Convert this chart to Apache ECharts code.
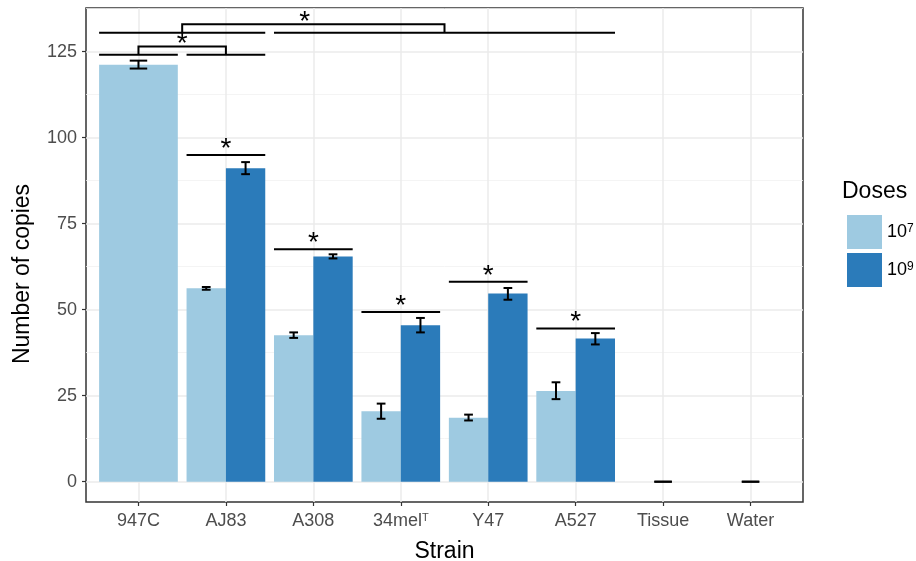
<!DOCTYPE html>
<html>
<head>
<meta charset="utf-8">
<script src="https://cdn.jsdelivr.net/npm/echarts@6/dist/echarts.min.js"></script>
<style>
  html, body { margin: 0; padding: 0; background: #fff; }
  #chart { width: 916px; height: 561px; }
</style>
</head>
<body>
<div id="chart"></div>
<script>
// data
var strains = ['947C', 'AJ83', 'A308', '34mel{s|T}', 'Y47', 'A527', 'Tissue', 'Water'];
var doseNames = ['10^7', '10^9'];
var low   = [121.2, 56.2, 42.6, 20.5, 18.6, 26.4, 0, 0];
var lowLo = [120.1, 55.8, 41.8, 18.3, 17.8, 24.0, 0, 0];
var lowHi = [122.4, 56.6, 43.4, 22.7, 19.5, 28.9, 0, 0];
var high   = [null, 91.1, 65.5, 45.5, 54.7, 41.6, null, null];
var highLo = [null, 89.4, 64.9, 43.4, 52.9, 39.9, null, null];
var highHi = [null, 92.9, 66.1, 47.6, 56.3, 43.2, null, null];
var sigY = [null, 95.0, 67.6, 49.3, 58.1, 44.5, null, null];   // per-strain 10^7 vs 10^9
var groupSegs = [[0, 0, 124.1], [1, 1, 124.1], [0, 1, 130.5], [2, 5, 130.5]]; // from, to, y
var brackets = [[0, 1, 124.1, 126.5, 0.5], [0.5, 3.5, 130.5, 133.0, 1.9]];  // a, b, base, top, star x
var yTicks = [0, 25, 50, 75, 100, 125];
var yMinor = [12.5, 37.5, 62.5, 87.5, 112.5, 137.5];

var colors = ['#9ecae1', '#2b7bba'];
var font = "'Liberation Sans', Arial, sans-serif";
var xTicks = strains.map(function (s, i) { return i; });
var HALF = 0.45;
var ink = { stroke: '#000', lineWidth: 2 };

function rows(vals, lo, hi) {
  var out = [];
  vals.forEach(function (v, i) { if (v != null) out.push([i, v, lo[i], hi[i]]); });
  return out;
}

function barItem(side, color) {
  return function (params, api) {
    var c = api.value(0), v = api.value(1);
    var paired = low[c] != null && high[c] != null;
    var x0 = paired ? (side < 0 ? c - HALF : c) : c - HALF;
    var x1 = paired ? (side < 0 ? c : c + HALF) : c + HALF;
    var cap = paired ? 0.05 : 0.1;
    var xm = (x0 + x1) / 2;
    var p0 = api.coord([x0, v]), p1 = api.coord([x1, 0]);
    var lo = api.coord([xm - cap, api.value(2)]), hi = api.coord([xm + cap, api.value(3)]);
    var mx = api.coord([xm, v])[0];
    return { type: 'group', children: [
      { type: 'rect', shape: { x: p0[0], y: p0[1], width: p1[0] - p0[0], height: p1[1] - p0[1] }, style: { fill: color } },
      { type: 'line', shape: { x1: mx, y1: lo[1], x2: mx, y2: hi[1] }, style: ink },
      { type: 'line', shape: { x1: lo[0], y1: lo[1], x2: hi[0], y2: lo[1] }, style: ink },
      { type: 'line', shape: { x1: lo[0], y1: hi[1], x2: hi[0], y2: hi[1] }, style: ink }
    ] };
  };
}

function star(x, y) {
  return { type: 'text', x: x, y: y, style: { text: '*', fontSize: 28, fontFamily: font, fill: '#000', textAlign: 'center', textVerticalAlign: 'middle' } };
}

var chart = echarts.init(document.getElementById('chart'));
chart.setOption({
  animation: false,
  textStyle: { fontFamily: font },
  grid: { left: 86, right: 113, top: 8, bottom: 59, outerBoundsMode: 'none', containLabel: false,
    show: true, borderColor: '#333', borderWidth: 1.5, backgroundColor: '#fff' },
  legend: {
    data: doseNames, orient: 'vertical', left: 842, top: 210,
    itemWidth: 35, itemHeight: 34, itemGap: 4, icon: 'rect',
    formatter: function (n) { return '10{s|' + n.split('^')[1] + '}'; },
    textStyle: { fontSize: 18, color: '#000', fontFamily: font, rich: { s: { fontSize: 12, verticalAlign: 'top', fontFamily: font } } }
  },
  graphic: [
    { type: 'text', x: 23, y: 274, rotation: Math.PI / 2, style: { text: 'Number of copies', fontSize: 23, fontFamily: font, fill: '#000', textAlign: 'center', textVerticalAlign: 'middle' } },
    { type: 'text', x: 842, y: 192, style: { text: 'Doses', fontSize: 23, fontFamily: font, fill: '#000', textAlign: 'left', textVerticalAlign: 'middle' } }
  ],
  xAxis: {
    type: 'value', min: -0.6, max: 7.6,
    axisLine: { show: false, onZero: false },
    axisTick: { customValues: xTicks, length: 4, lineStyle: { color: '#333', width: 1.2 } },
    axisLabel: {
      customValues: xTicks, margin: 10, color: '#4d4d4d', fontSize: 18,
      formatter: function (v) { return strains[v]; },
      rich: { s: { fontSize: 11, verticalAlign: 'top', color: '#4d4d4d' } }
    },
    splitLine: { lineStyle: { color: '#ebebeb', width: 1.5 } },
    name: 'Strain', nameLocation: 'middle', nameGap: 38,
    nameTextStyle: { fontSize: 23, color: '#000' }
  },
  yAxis: [{
    type: 'value', min: -5.9, max: 137.7,
    axisLine: { show: false, onZero: false },
    axisTick: { customValues: yTicks, length: 4, lineStyle: { color: '#333', width: 1.2 } },
    axisLabel: { customValues: yTicks, margin: 9, color: '#4d4d4d', fontSize: 18 },
    splitLine: { lineStyle: { color: '#ebebeb', width: 1.5 } }
  }, {
    type: 'value', min: -5.9, max: 137.7, position: 'left',
    axisLine: { show: false, onZero: false },
    axisTick: { show: false, customValues: yMinor },
    axisLabel: { show: false },
    splitLine: { lineStyle: { color: '#f1f1f1', width: 0.8 } }
  }],
  series: [
    { name: doseNames[0], type: 'custom', itemStyle: { color: colors[0] }, encode: { x: 0, y: 1 },
      data: rows(low, lowLo, lowHi), renderItem: barItem(-1, colors[0]) },
    { name: doseNames[1], type: 'custom', itemStyle: { color: colors[1] }, encode: { x: 0, y: 1 },
      data: rows(high, highLo, highHi), renderItem: barItem(1, colors[1]) },
    { type: 'custom', encode: { x: 0, y: 1 }, z: 5,
      data: rows(sigY, sigY, sigY),
      renderItem: function (params, api) {
        var c = api.value(0), y = api.value(1);
        var a = api.coord([c - HALF, y]), b = api.coord([c + HALF, y]);
        return { type: 'group', children: [
          { type: 'line', shape: { x1: a[0], y1: a[1], x2: b[0], y2: b[1] }, style: ink },
          star((a[0] + b[0]) / 2, a[1] - 6)
        ] };
      } },
    { type: 'custom', encode: { x: 0, y: 2 }, z: 5, data: groupSegs,
      renderItem: function (params, api) {
        var a = api.coord([api.value(0) - HALF, api.value(2)]), b = api.coord([api.value(1) + HALF, api.value(2)]);
        return { type: 'line', shape: { x1: a[0], y1: a[1], x2: b[0], y2: b[1] }, style: ink };
      } },
    { type: 'custom', encode: { x: 0, y: 3 }, z: 5, data: brackets,
      renderItem: function (params, api) {
        var a0 = api.coord([api.value(0), api.value(2)]), a1 = api.coord([api.value(0), api.value(3)]);
        var b1 = api.coord([api.value(1), api.value(3)]), b0 = api.coord([api.value(1), api.value(2)]);
        var sx = api.coord([api.value(4), api.value(3)])[0];
        return { type: 'group', children: [
          { type: 'polyline', shape: { points: [a0, a1, b1, b0] }, style: { stroke: '#000', lineWidth: 2, fill: null } },
          star(sx, a1[1] - 2)
        ] };
      } }
  ]
});
</script>
</body>
</html>
